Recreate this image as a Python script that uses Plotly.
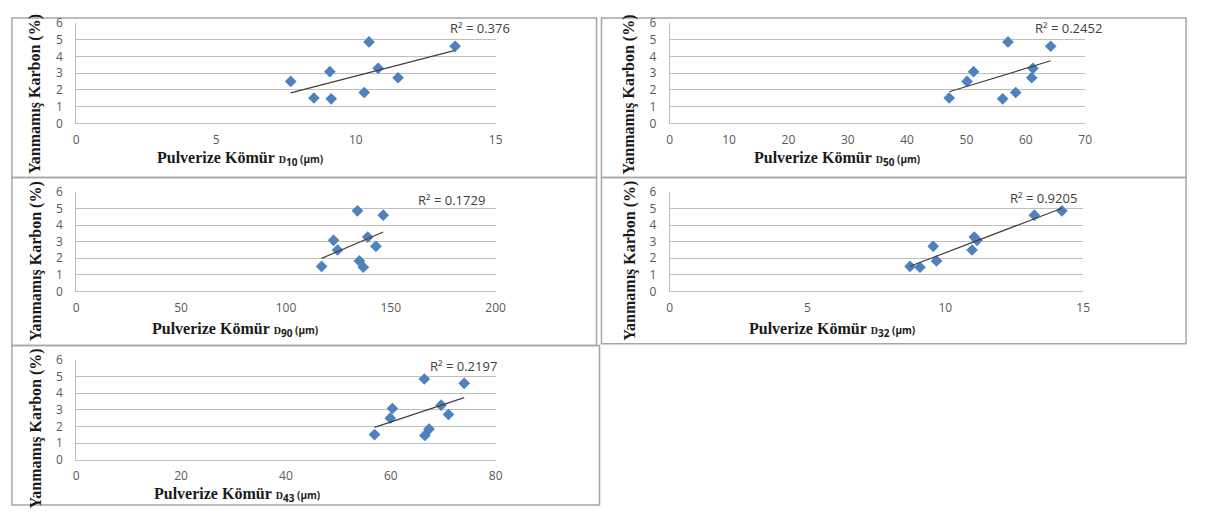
import numpy as np
import plotly.graph_objects as go

# Unburned carbon (%) for the nine samples
carbon = [1.51, 1.46, 1.84, 2.50, 2.72, 3.08, 3.28, 4.60, 4.86]
# Particle size parameters (µm) for the same samples
d10 = [8.50, 9.12, 10.30, 7.67, 11.51, 9.07, 10.80, 13.55, 10.47]
d50 = [47.1, 56.1, 58.3, 50.1, 61.0, 51.2, 61.2, 64.2, 57.0]
d90 = [117.0, 136.9, 135.0, 124.6, 142.9, 122.7, 139.0, 146.4, 134.1]
d32 = [8.72, 9.08, 9.68, 10.97, 9.56, 11.15, 11.05, 13.23, 14.23]
d43 = [56.9, 66.5, 67.3, 59.9, 71.0, 60.3, 69.6, 74.0, 66.4]

sizes = [d10, d50, d90, d32, d43]
subs = ["10", "50", "90", "32", "43"]
r2_labels = ["R² = 0.376", "R² = 0.2452", "R² = 0.1729", "R² = 0.9205", "R² = 0.2197"]
x_ranges = [[0, 15], [0, 70], [0, 200], [0, 15], [0, 80]]
x_dticks = [5, 10, 50, 5, 20]

# figure sized so that the page (with the default 8px body margin) fits the window
OFF = 8
FW, FH = 1205 - 2 * OFF, 522 - 2 * OFF
def px(x):
    return min(max((x - OFF) / FW, 0.0008), 0.9992)
def py(y):
    return min(max(1 - (y - OFF) / FH, 0.002), 0.998)

# panel geometry in window pixels: plot area (x0, x1, ytop, ybot), box (bx0, bx1, by0, by1)
plots = [(74, 498, 14, 118), (674, 1094, 14, 118), (74, 498, 189, 292),
         (674, 1092, 189, 292), (74, 498, 363, 466)]
boxes = [(2, 600, 2, 174), (605, 1202, 2, 174), (2, 600, 174, 348),
         (605, 1202, 174, 346), (2, 603, 348, 521)]
ytitle_pos = [(33, 88), (633, 88), (33, 261), (633, 260), (33, 434)]
xtitle_pos = [(240, 155), (843, 155), (234, 332), (838, 332), (237, 503)]
r2_pos = [(515, 19), (1113, 19), (489, 197), (1088, 195), (501, 369)]

fig = go.Figure()
layout = dict(
    width=FW, height=FH, margin=dict(l=0, r=0, t=0, b=0),
    paper_bgcolor="white", plot_bgcolor="white", showlegend=False,
)
shapes = []
annotations = []
tickfont = dict(family="Open Sans, Arial, sans-serif", size=12, color="#595959")

for i in range(5):
    n = i + 1
    xa = "x" if n == 1 else f"x{n}"
    ya = "y" if n == 1 else f"y{n}"
    x0, x1, yt, yb = plots[i]
    xs = sizes[i]
    fig.add_trace(go.Scatter(
        x=xs, y=carbon, mode="markers", xaxis=xa, yaxis=ya,
        marker=dict(symbol="diamond", size=9, color="#4F81BD"),
    ))
    k, b = np.polyfit(xs, carbon, 1)
    xl = [min(xs), max(xs)]
    fig.add_trace(go.Scatter(
        x=xl, y=[k * v + b for v in xl], mode="lines", xaxis=xa, yaxis=ya,
        line=dict(color="#404040", width=1.2),
    ))
    layout[f"xaxis{'' if n == 1 else n}"] = dict(
        domain=[px(x0), px(x1)], anchor=ya, range=x_ranges[i], dtick=x_dticks[i],
        tick0=0, showgrid=False, zeroline=False, showline=True, linecolor="#BFBFBF",
        linewidth=1, ticks="", tickfont=tickfont, ticklabelstandoff=5,
    )
    layout[f"yaxis{'' if n == 1 else n}"] = dict(
        domain=[py(yb), py(yt)], anchor=xa, range=[0, 6], dtick=1, tick0=0,
        showgrid=True, gridcolor="#BFBFBF", gridwidth=1, zeroline=False,
        showline=True, linecolor="#BFBFBF", linewidth=1, ticks="",
        tickfont=tickfont, ticklabelstandoff=10,
    )
    bx0, bx1, by0, by1 = boxes[i]
    shapes.append(dict(type="rect", xref="paper", yref="paper",
                       x0=px(bx0), x1=px(bx1), y0=py(by1), y1=py(by0),
                       line=dict(color="#A6A6A6", width=1.5), layer="below"))
    tx, ty = ytitle_pos[i]
    annotations.append(dict(
        x=px(tx), y=py(ty), xref="paper", yref="paper", showarrow=False,
        text="<b>Yanmamış Karbon (%)</b>", textangle=-90,
        font=dict(family="Liberation Serif, Times New Roman, serif", size=16, color="#1a1a1a"),
        xanchor="center", yanchor="middle",
    ))
    tx, ty = xtitle_pos[i]
    annotations.append(dict(
        x=px(tx), y=py(ty), xref="paper", yref="paper", showarrow=False,
        text=("<b>Pulverize Kömür</b> "
              "<span style='font-family:Liberation Serif;font-size:10px'><b>D</b></span>"
              f"<sub><span style='font-family:Open Sans;font-size:10px'><b>{subs[i]}</b></span></sub>"
              "<span style='font-family:Open Sans;font-size:10px'><b> (µm)</b></span>"),
        font=dict(family="Liberation Serif, Times New Roman, serif", size=16, color="#1a1a1a"),
        xanchor="center", yanchor="middle",
    ))
    tx, ty = r2_pos[i]
    annotations.append(dict(
        x=px(tx), y=py(ty), xref="paper", yref="paper", showarrow=False,
        text=r2_labels[i],
        font=dict(family="Open Sans, Arial, sans-serif", size=13, color="#404040"),
        xanchor="right", yanchor="middle",
    ))

layout["shapes"] = shapes
layout["annotations"] = annotations
fig.update_layout(**layout)
fig.write_html("out.html", config={"displayModeBar": False})
